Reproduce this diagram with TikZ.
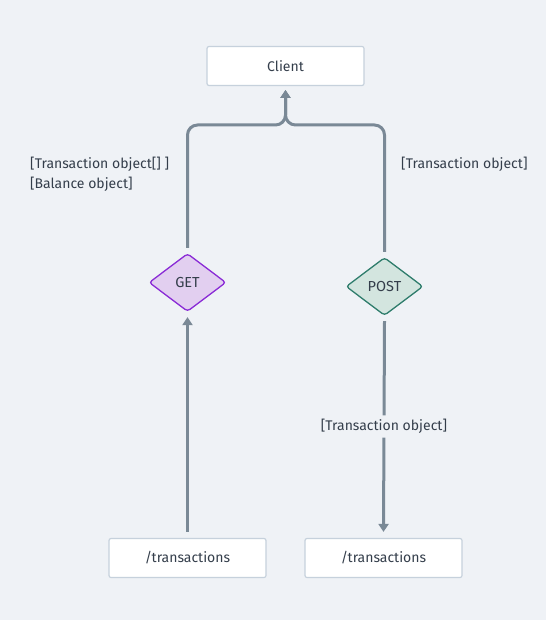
\documentclass[tikz,border=0pt]{standalone}
\usepackage{fontspec}
\setmainfont{Fira Sans}
\usetikzlibrary{shapes.geometric,arrows.meta}
\definecolor{bg}{HTML}{EFF2F6}
\definecolor{txt}{HTML}{343E4B}
\definecolor{ln}{HTML}{7A8996}
\definecolor{boxb}{HTML}{C6D1DC}
\definecolor{getf}{HTML}{E2CFF0}
\definecolor{getb}{HTML}{8A2BD6}
\definecolor{postf}{HTML}{D3E5DF}
\definecolor{postb}{HTML}{2F7D6C}
\tikzset{
  every node/.style={text=txt, font=\fontsize{14}{17}\selectfont},
  box/.style={draw=boxb, line width=1.2pt, fill=white, rounded corners=2pt, minimum width=157pt, minimum height=39pt, inner sep=0pt},
  dia/.style={diamond, line width=1.3pt, rounded corners=3pt, minimum width=77pt, minimum height=58pt, inner sep=0pt, font=\fontsize{14.5}{17}\selectfont},
  conn/.style={draw=ln, line width=3pt, rounded corners=10pt, -{Triangle[width=10pt,length=8pt]}},
  lbl/.style={align=left, anchor=west, inner sep=0pt}
}
\begin{document}
\begin{tikzpicture}[x=1pt,y=-1pt]
\fill[bg] (0,0) rectangle (546,620);
\useasboundingbox (0,0) rectangle (546,620);
\node[box] (client) at (285.5,66) {Client};
\node[box] (tl) at (187.5,558) {/transactions};
\node[box] (tr) at (383.5,558) {/transactions};
\node[dia, draw=getb, fill=getf] (get) at (187.5,282.5) {GET};
\node[dia, draw=postb, fill=postf] (post) at (384.5,286.5) {POST};
\coordinate (cj) at (285.5,125);
\coordinate (ctop) at (285.5,90);
\draw[conn] ([yshift=5pt]get.north) |- (cj) -- (ctop);
\draw[conn] ([yshift=5pt]post.north) |- (cj) -- (ctop);
\draw[conn] ([yshift=6pt]tl.north) -- ([yshift=-5pt]get.south);
\draw[conn] ([yshift=-5pt]post.south) -- node[fill=bg, inner sep=4pt] (lb) {[Transaction object]} ([yshift=6pt]tr.north);
\node[lbl] (l1) at (30,164) {[Transaction object[] ]};
\node[lbl] (l2) at (30,184) {[Balance object]};
\node[lbl] (l3) at (401,164) {[Transaction object]};
\end{tikzpicture}
\end{document}
